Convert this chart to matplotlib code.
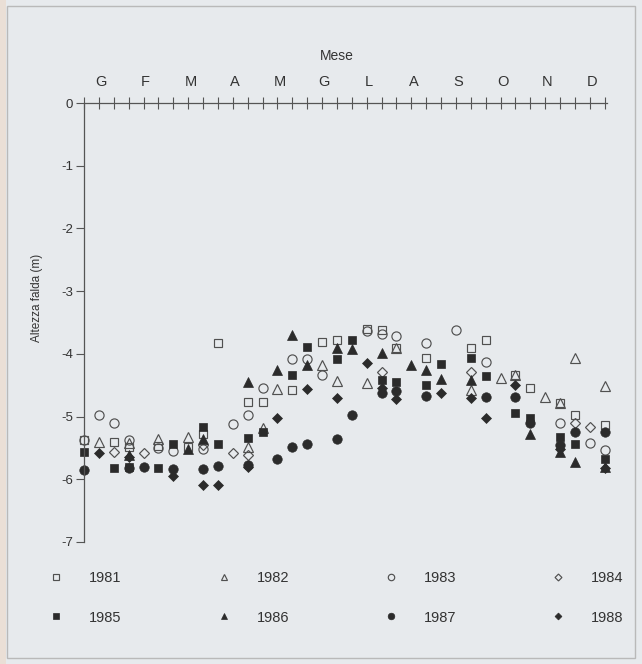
import numpy as np
import matplotlib
matplotlib.use("Agg")
import matplotlib.pyplot as plt
from matplotlib.patches import Rectangle

nan = np.nan

# x positions: ten-day periods (decadi) of the year, 0..35
decadi = list(range(36))
month_labels = ["G", "F", "M", "A", "M", "G", "L", "A", "S", "O", "N", "D"]
month_pos = [3 * i + 1.15 for i in range(12)]
y_ticks = [0, -1, -2, -3, -4, -5, -6, -7]
y_ticklabels = ["0", "-1", "-2", "-3", "-4", "-5", "-6", "-7"]

y1981 = [-5.37, nan, -5.40, -5.49, nan, -5.47, nan, -5.49, -5.28, -3.83, nan, -4.76,
         -4.76, nan, -4.57, nan, -3.81, -3.78, nan, -3.61, -3.62, -3.90, nan, -4.07,
         nan, nan, -3.91, -3.78, nan, -4.33, -4.54, nan, -4.78, -4.98, nan, -5.13]
y1982 = [nan, -5.40, nan, -5.42, nan, -5.35, nan, -5.32, nan, nan, nan, -5.49,
         -5.18, -4.56, nan, nan, -4.17, -4.44, nan, -4.47, nan, -3.90, nan, nan,
         nan, nan, -4.57, nan, -4.39, -4.33, nan, -4.68, -4.78, -4.07, nan, -4.52]
y1983 = [-5.37, -4.97, -5.11, -5.37, nan, -5.50, -5.55, nan, -5.52, nan, -5.12, -4.97,
         -4.55, nan, -4.08, -4.08, -4.34, nan, nan, -3.64, -3.68, -3.72, nan, -3.82,
         nan, -3.62, nan, -4.13, nan, nan, nan, nan, -5.10, nan, -5.42, -5.54]
y1984 = [nan, nan, -5.56, nan, -5.58, nan, nan, nan, -5.45, nan, -5.58, -5.62,
         nan, nan, nan, nan, nan, nan, nan, nan, -4.29, nan, nan, nan,
         nan, nan, -4.29, nan, nan, nan, nan, nan, nan, -5.10, -5.16, nan]
y1985 = [-5.56, nan, -5.82, -5.80, nan, -5.82, -5.43, nan, -5.17, -5.43, nan, -5.34,
         -5.25, nan, -4.34, -3.89, nan, -4.08, -3.78, nan, -4.42, -4.45, nan, -4.50,
         -4.16, nan, -4.07, -4.36, nan, -4.94, -5.02, nan, -5.33, -5.44, nan, -5.67]
y1986 = [nan, nan, nan, -5.62, nan, nan, nan, -5.52, -5.35, nan, nan, -4.45,
         nan, -4.26, -3.70, -4.18, nan, -3.91, -3.93, nan, -3.99, nan, -4.17, -4.26,
         -4.40, nan, -4.42, nan, nan, nan, -5.27, nan, -5.57, -5.72, nan, -5.80]
y1987 = [-5.85, nan, nan, -5.82, -5.80, nan, -5.84, nan, -5.84, -5.79, nan, -5.77,
         nan, -5.67, -5.48, -5.44, nan, -5.35, -4.98, nan, -4.62, -4.60, nan, -4.67,
         nan, nan, nan, -4.68, nan, -4.68, -5.10, nan, -5.45, -5.25, nan, -5.25]
y1988 = [nan, -5.58, nan, -5.65, nan, nan, -5.95, nan, -6.09, -6.09, nan, -5.80,
         nan, -5.02, nan, -4.56, nan, -4.70, nan, -4.15, -4.55, -4.72, nan, nan,
         -4.62, nan, -4.70, -5.02, nan, -4.50, nan, nan, -5.52, nan, nan, -5.82]

years = ["1981", "1982", "1983", "1984", "1985", "1986", "1987", "1988"]
values = [y1981, y1982, y1983, y1984, y1985, y1986, y1987, y1988]

bg = "#e7eaed"
ink = "#2b2b2b"
open_edge = "#505050"
styles = {
    "1981": dict(marker="s", ms=6.2, mfc="none", mec=open_edge, mew=0.85),
    "1982": dict(marker="^", ms=6.6, mfc="none", mec=open_edge, mew=0.85),
    "1983": dict(marker="o", ms=6.6, mfc="none", mec=open_edge, mew=0.85),
    "1984": dict(marker="D", ms=5.0, mfc="none", mec=open_edge, mew=0.85),
    "1985": dict(marker="s", ms=6.2, mfc=ink, mec=ink, mew=0.5),
    "1986": dict(marker="^", ms=6.6, mfc=ink, mec=ink, mew=0.5),
    "1987": dict(marker="o", ms=6.8, mfc=ink, mec=ink, mew=0.5),
    "1988": dict(marker="D", ms=5.0, mfc=ink, mec=ink, mew=0.5),
}

plt.rcParams["font.family"] = ["Liberation Sans", "DejaVu Sans"]
plt.rcParams["text.color"] = "#333333"

fig = plt.figure(figsize=(6.42, 6.64), dpi=100, facecolor=bg)
ax = fig.add_axes([84 / 642, (664 - 542) / 664, (607 - 84) / 642, 439 / 664])
ax.set_facecolor(bg)

for yr, vals in zip(years, values):
    ax.plot(decadi, vals, linestyle="none", clip_on=False, label=yr, **styles[yr])

ax.set_xlim(0, 35.15)
ax.set_ylim(-7, 0)

for s in ["right", "bottom"]:
    ax.spines[s].set_visible(False)
for s in ["left", "top"]:
    ax.spines[s].set_color("#555555")
    ax.spines[s].set_linewidth(0.9)

ax.xaxis.tick_top()
ax.set_xticks(decadi)
ax.set_xticklabels([""] * len(decadi))
ax.tick_params(axis="x", which="major", direction="inout", length=9, width=0.8,
               color="#555555", top=True, bottom=False)
ax.set_xticks(month_pos, minor=True)
ax.set_xticklabels(month_labels, minor=True, fontsize=10.5, color="#333333")
ax.tick_params(axis="x", which="minor", length=0, pad=10, top=True, bottom=False)

ax.set_yticks(y_ticks)
ax.set_yticklabels(y_ticklabels, fontsize=9.5, color="#333333")
ax.tick_params(axis="y", direction="out", length=6, width=0.8, color="#555555", pad=2)

ax.set_ylabel("Altezza falda (m)", fontsize=8.5, color="#333333")
ax.yaxis.set_label_coords(-0.078, 0.555)
ax.set_xlabel("Mese", fontsize=10, color="#333333")
ax.xaxis.set_label_position("top")
ax.xaxis.set_label_coords(0.484, 1.098)

order = ["1981", "1985", "1982", "1986", "1983", "1987", "1984", "1988"]
leg_handles = []
for yr in order:
    st = dict(styles[yr])
    st["ms"] = st["ms"] * 0.7
    (lh,) = ax.plot([], [], linestyle="none", **st)
    leg_handles.append(lh)
leg = fig.legend(leg_handles, order, ncol=4, loc="upper left",
                 bbox_to_anchor=(49 / 642, (664 - 571) / 664),
                 frameon=False, fontsize=10.5, handlelength=1.0, handletextpad=1.75,
                 columnspacing=6.5, labelspacing=1.75, borderpad=0, borderaxespad=0)
for t in leg.get_texts():
    t.set_color("#333333")

fig.patches.append(Rectangle((7 / 642, 6 / 664), 628 / 642, 652 / 664,
                             transform=fig.transFigure, fill=False,
                             edgecolor="#b9b9b9", linewidth=1.0))
fig.patches.append(Rectangle((0, 0), 6 / 642, 1, transform=fig.transFigure,
                             facecolor="#eadfd6", edgecolor="none"))

fig.savefig("out.png", dpi=100, facecolor=bg)
